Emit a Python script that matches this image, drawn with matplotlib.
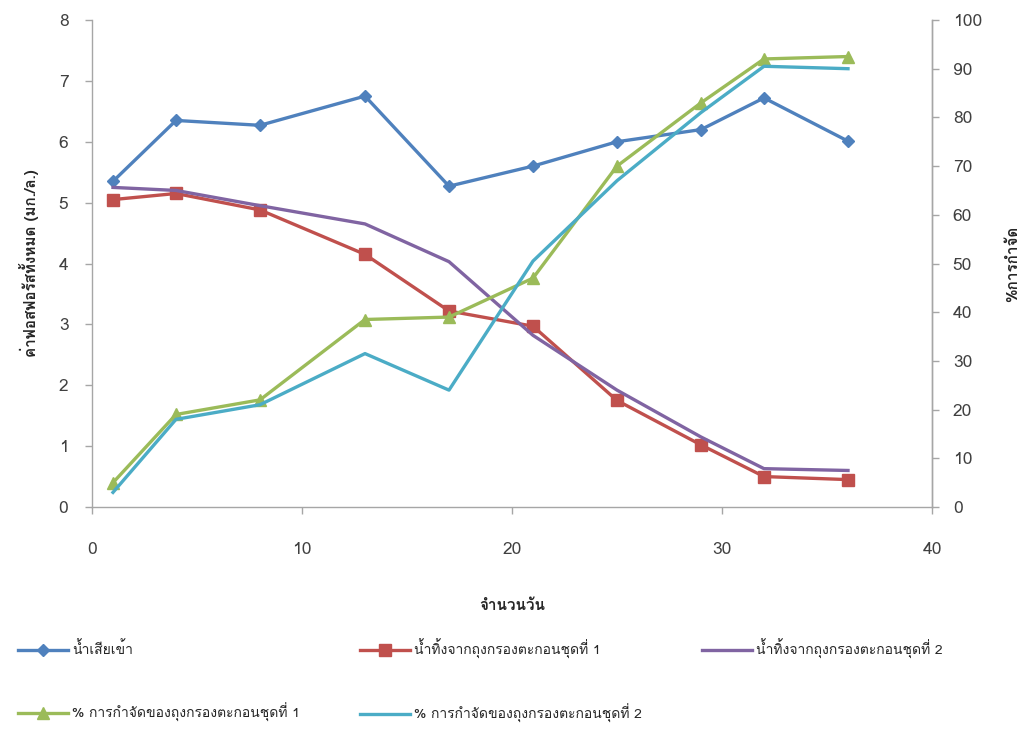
import matplotlib
matplotlib.use("Agg")
import matplotlib.pyplot as plt
from matplotlib import font_manager
from matplotlib.ft2font import FT2Font

# Sampling days
days = [1, 4, 8, 13, 17, 21, 25, 29, 32, 36]

# Concentrations (mg/L), left axis
influent = [5.35, 6.35, 6.27, 6.75, 5.27, 5.6, 6.0, 6.2, 6.72, 6.01]
effluent_1 = [5.05, 5.15, 4.88, 4.15, 3.22, 2.97, 1.75, 1.02, 0.5, 0.45]
effluent_2 = [5.25, 5.2, 4.95, 4.65, 4.03, 2.82, 1.92, 1.15, 0.63, 0.6]

# Removal efficiency (%), right axis
removal_1 = [5.0, 19.0, 22.0, 38.5, 39.0, 47.0, 70.0, 83.0, 92.0, 92.5]
removal_2 = [3.0, 18.0, 21.0, 31.5, 24.0, 50.5, 67.0, 81.0, 90.5, 90.0]

labels = [
    "น้ำเสียเข้า",
    "น้ำทิ้งจากถุงกรองตะกอนชุดที่ 1",
    "น้ำทิ้งจากถุงกรองตะกอนชุดที่ 2",
    "% การกำจัดของถุงกรองตะกอนชุดที่ 1",
    "% การกำจัดของถุงกรองตะกอนชุดที่ 2",
]
x_title = "จำนวนวัน"
y_title = "ค่าฟอสฟอรัสทั้งหมด (มก./ล.)"
y2_title = "%การกำจัด"


def covers_thai(path):
    try:
        return 0x0E01 in FT2Font(path).get_charmap()
    except Exception:
        return False


thai_fonts = []
for f in font_manager.fontManager.ttflist:
    if f.name not in thai_fonts and covers_thai(f.fname):
        thai_fonts.append(f.name)

families = (thai_fonts[:1] if thai_fonts else []) + ["Lato", "DejaVu Sans"]
plt.rcParams["font.family"] = families

c_blue = "#4F81BD"
c_red = "#C0504D"
c_purple = "#8064A2"
c_green = "#9BBB59"
c_cyan = "#4BACC6"
axis_grey = "#A6A6A6"
text_grey = "#404040"

fig = plt.figure(figsize=(10.36, 7.29), dpi=100)
ax = fig.add_axes([92 / 1036, 1 - 507 / 729, 840 / 1036, 487 / 729])
ax2 = ax.twinx()

lw = 2.4
h1, = ax.plot(days, influent, color=c_blue, lw=lw, marker="D", ms=6.5)
h2, = ax.plot(days, effluent_1, color=c_red, lw=lw, marker="s", ms=8)
h3, = ax.plot(days, effluent_2, color=c_purple, lw=lw)
h4, = ax2.plot(days, removal_1, color=c_green, lw=lw, marker="^", ms=8)
h5, = ax2.plot(days, removal_2, color=c_cyan, lw=lw)

ax.set_xlim(0, 40)
ax.set_ylim(0, 8)
ax2.set_ylim(0, 100)
ax.set_xticks([0, 10, 20, 30, 40])
ax.set_yticks(range(0, 9))
ax2.set_yticks(range(0, 101, 10))

for a in (ax, ax2):
    a.spines["top"].set_visible(False)
    for side in ("left", "right", "bottom"):
        a.spines[side].set_color(axis_grey)
        a.spines[side].set_linewidth(1.0)
    a.tick_params(colors=axis_grey, labelcolor=text_grey, labelsize=12.5,
                  length=5, width=1, direction="out")
ax.tick_params(axis="x", pad=20)
ax.tick_params(axis="y", pad=12)
ax2.tick_params(axis="y", pad=10)
ax2.spines["left"].set_visible(False)
ax2.spines["bottom"].set_visible(False)

ax.set_xlabel(x_title, fontsize=11, color="#262626", labelpad=30, fontweight="bold")
ax.set_ylabel(y_title, fontsize=11, color="#262626", labelpad=14, fontweight="bold")
ax2.set_ylabel(y2_title, fontsize=11, color="#262626", labelpad=17,
               rotation=90, fontweight="bold")

handles = [h1, h4, h2, h5, h3]
order = [0, 3, 1, 4, 2]
fig.legend(handles, [labels[i] for i in order], ncol=3,
           loc="lower left", bbox_to_anchor=(0.012, 0.0),
           frameon=False, fontsize=10, handlelength=3.6, handletextpad=0.3,
           labelspacing=3.3, columnspacing=4.3, borderaxespad=0.0,
           labelcolor="#262626")

fig.savefig("out.png", dpi=100)
